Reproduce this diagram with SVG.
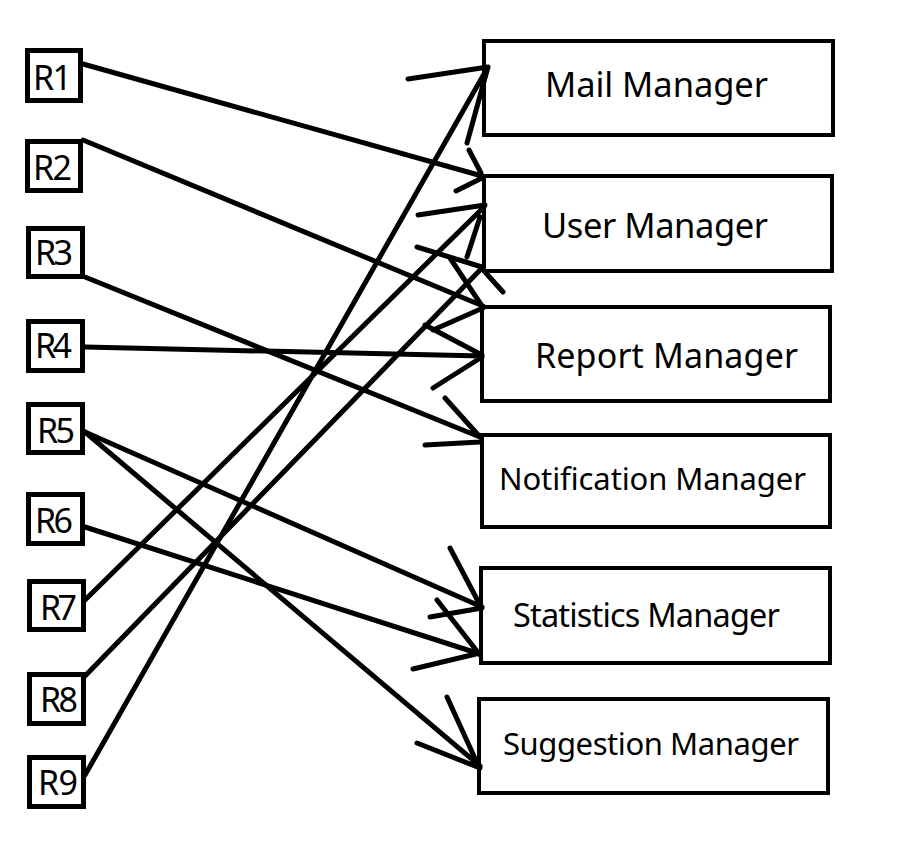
<svg xmlns="http://www.w3.org/2000/svg" width="920" height="856" viewBox="0 0 920 856">
<style>
.lb{fill:#fff;stroke:#000;stroke-width:5}
.rb{fill:#fff;stroke:#000;stroke-width:4}
.lt{font-family:"Noto Sans","Open Sans",sans-serif;font-size:34px;fill:#000}
.rt{font-family:"Noto Sans","Open Sans",sans-serif;font-size:32px;fill:#000}
.c{stroke:#000;stroke-width:5;stroke-linecap:round;fill:none}
</style>
<rect width="920" height="856" fill="#fff"/>
<g id="R1"><rect class="lb" x="27.5" y="50.5" width="53" height="50"/><text class="lt" x="33" y="90" textLength="39">R1</text></g>
<g id="R2"><rect class="lb" x="27.5" y="141.5" width="53" height="49"/><text class="lt" x="33" y="180" textLength="39">R2</text></g>
<g id="R3"><rect class="lb" x="28.5" y="228.5" width="54" height="48"/><text class="lt" x="35" y="265" textLength="38">R3</text></g>
<g id="R4"><rect class="lb" x="28.5" y="321.5" width="54" height="49"/><text class="lt" x="35" y="358" textLength="37">R4</text></g>
<g id="R5"><rect class="lb" x="28.5" y="404.5" width="54" height="48"/><text class="lt" x="37" y="443" textLength="38">R5</text></g>
<g id="R6"><rect class="lb" x="28.5" y="494.5" width="54" height="49"/><text class="lt" x="35" y="533" textLength="38">R6</text></g>
<g id="R7"><rect class="lb" x="29.5" y="581.5" width="54" height="48"/><text class="lt" x="40" y="620" textLength="37">R7</text></g>
<g id="R8"><rect class="lb" x="29.5" y="674.5" width="54" height="49"/><text class="lt" x="40" y="712" textLength="38">R8</text></g>
<g id="R9"><rect class="lb" x="29.5" y="757.5" width="54" height="49"/><text class="lt" x="38" y="795" textLength="40">R9</text></g>
<g id="mail"><rect class="rb" x="484" y="41" width="349" height="94"/><text class="rt" x="545" y="97" textLength="223" style="font-size:34.5px">Mail Manager</text></g>
<g id="user"><rect class="rb" x="484" y="176" width="348" height="95"/><text class="rt" x="542" y="238" textLength="226" style="font-size:34.5px">User Manager</text></g>
<g id="report"><rect class="rb" x="482" y="307" width="348" height="94"/><text class="rt" x="535" y="368" textLength="263" style="font-size:34px">Report Manager</text></g>
<g id="notification"><rect class="rb" x="482" y="435" width="348" height="92"/><text class="rt" x="499" y="490" textLength="307" style="font-size:31px">Notification Manager</text></g>
<g id="statistics"><rect class="rb" x="481" y="568" width="349" height="95"/><text class="rt" x="513" y="627" textLength="267" style="font-size:32.5px">Statistics Manager</text></g>
<g id="suggestion"><rect class="rb" x="479" y="699" width="349" height="94"/><text class="rt" x="503" y="755" textLength="296" style="font-size:31px">Suggestion Manager</text></g>
<g id="connectors">
<path class="c" d="M83 64 L482 176 M469 150 L481 173 M456 191 L482 178"/>
<path class="c" d="M83 140 L483 306 M450 258 L482 306 M433 330 L483 308"/>
<path class="c" d="M85 277 L480 437 M445 398 L480 437 M425 445 L480 442"/>
<path class="c" d="M85 347 L482 356 M425 325 L482 355 M433 388 L482 357"/>
<path class="c" d="M85 432 L482 607 M450 548 L480 605 M430 617 L482 608"/>
<path class="c" d="M85 432 L480 766 M447 697 L478 765 M417 743 L480 768"/>
<path class="c" d="M85 527 L480 654 M437 600 L480 655 M413 669 L480 653"/>
<path class="c" d="M85 600 L484 207 M418 215 L485 205 M467 257 L480 217"/>
<path class="c" d="M85 676 L482 268 M417 247 L482 267 M485 272 L503 292"/>
<path class="c" d="M85 775 L488 67 M408 79 L488 67 M467 143 L488 67"/>
</g>
</svg>
